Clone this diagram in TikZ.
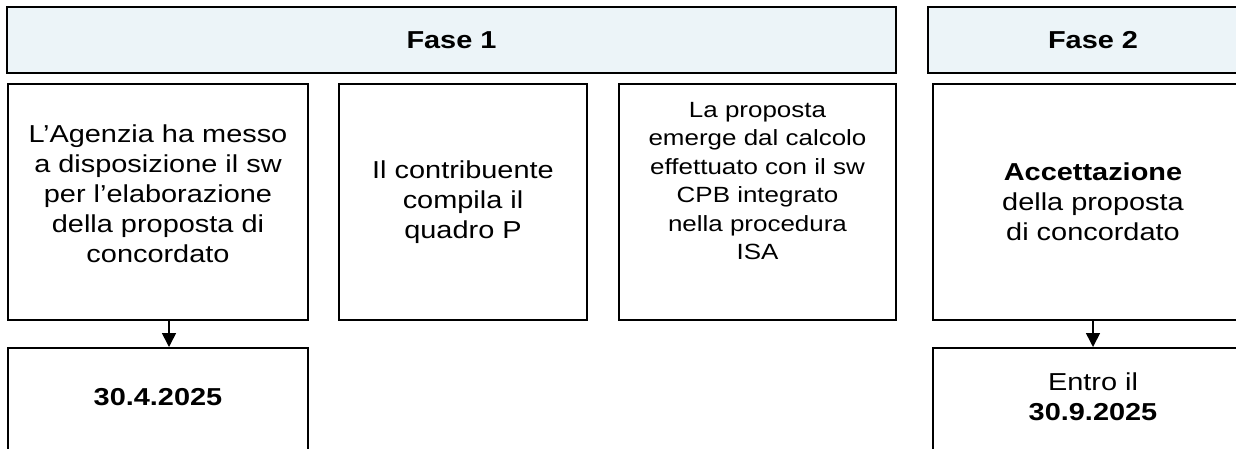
\documentclass[tikz,border=0pt]{standalone}
\usepackage{fontspec}
\setmainfont{Liberation Sans}[FakeStretch=1.18]
\usetikzlibrary{arrows.meta}
\definecolor{phaseblue}{RGB}{236,244,248}

\begin{document}
\begin{tikzpicture}[x=1pt, y=-1pt, every node/.style={font=\fontsize{24.5}{30}\selectfont, align=center}]
  \useasboundingbox (0,0) rectangle (1236,448);
  \tikzset{
    phase/.style={draw, line width=2pt, fill=phaseblue, font=\fontsize{24.5}{30}\selectfont\bfseries,
      minimum height=66, inner sep=0},
    stepbox/.style={draw, line width=2pt, minimum height=236, inner sep=0},
    datebox/.style={draw, line width=2pt, minimum height=104, inner sep=0},
    down/.style={line width=1.6pt, -{Triangle[length=14pt,width=14pt]}}
  }

  % --- phase headers
  \node[phase, minimum width=889] (fase1) at (451.5,40) {Fase 1};
  \node[phase, minimum width=330] (fase2) at (1093,40) {Fase 2};

  % --- step boxes
  \node[stepbox, minimum width=300] (agenzia) at (158,202) {};
  \node[stepbox, minimum width=248] (quadro) at (463,202) {};
  \node[stepbox, minimum width=277] (calcolo) at (757.5,202) {};
  \node[stepbox, minimum width=320] (accetta) at (1093,202) {};

  \node (agenziatxt) at ([yshift=8]agenzia.center)
    {L’Agenzia ha messo\\a disposizione il sw\\per l’elaborazione\\della proposta di\\concordato};
  \node (quadrotxt) at (quadro.center) {Il contribuente\\compila il\\quadro P};
  \node[font=\fontsize{22}{28.4}\selectfont] (calcolotxt) at ([yshift=21]calcolo.center)
    {La proposta\\emerge dal calcolo\\effettuato con il sw\\CPB integrato\\nella procedura\\ISA};
  \node (accettatxt) at (accetta.center) {\textbf{Accettazione}\\della proposta\\di concordato};

  % --- deadlines
  \node[datebox, minimum width=300] (data1) at (158,400) {};
  \node[datebox, minimum width=320] (data2) at (1093,400) {};
  \node (data1txt) at ([yshift=3]data1.center) {\textbf{30.4.2025}};
  \node (data2txt) at ([yshift=3]data2.center) {Entro il\\\textbf{30.9.2025}};

  \draw[down] ([xshift=11]agenzia.south) -- ([xshift=11]data1.north);
  \draw[down] (accetta.south) -- (data2.north);
\end{tikzpicture}
\end{document}
